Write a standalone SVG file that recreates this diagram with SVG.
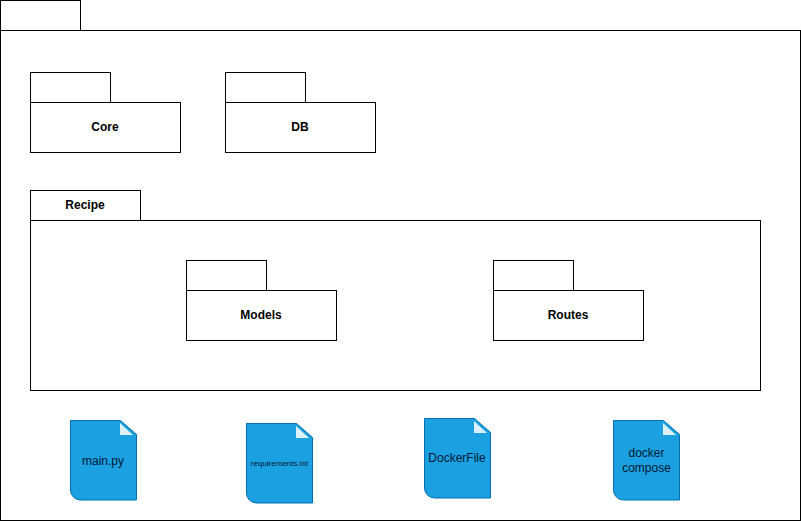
<svg xmlns="http://www.w3.org/2000/svg" width="801" height="522" viewBox="0 0 801 522">
<style>
.b{fill:#fff;stroke:#000;stroke-width:1}
.l{font:bold 12px "Liberation Sans",Arial,sans-serif;fill:#000;text-anchor:middle}
.f{fill:#1ba1e2;stroke:#006eaf;stroke-width:1}
.c{fill:#fff;fill-opacity:.85}
.t{font:12px "Liberation Sans",Arial,sans-serif;fill:#001933;text-anchor:middle}
</style>
<rect width="801" height="522" fill="#fff"/>
<g id="root"><rect class="b" x="0.5" y="0.5" width="80" height="30"/><rect class="b" x="0.5" y="30.5" width="800" height="490"/></g>
<g id="core"><rect class="b" x="30.5" y="72.5" width="80" height="30"/><rect class="b" x="30.5" y="102.5" width="150" height="50"/><text class="l" x="105" y="131">Core</text></g>
<g id="db"><rect class="b" x="225.5" y="72.5" width="80" height="30"/><rect class="b" x="225.5" y="102.5" width="150" height="50"/><text class="l" x="300" y="131">DB</text></g>
<g id="recipe"><rect class="b" x="30.5" y="190.5" width="110" height="30"/><rect class="b" x="30.5" y="220.5" width="730" height="170"/><text class="l" x="85" y="209">Recipe</text></g>
<g id="models"><rect class="b" x="186.5" y="260.5" width="80" height="30"/><rect class="b" x="186.5" y="290.5" width="150" height="50"/><text class="l" x="261" y="319">Models</text></g>
<g id="routes"><rect class="b" x="493.5" y="260.5" width="80" height="30"/><rect class="b" x="493.5" y="290.5" width="150" height="50"/><text class="l" x="568" y="319">Routes</text></g>
<g id="main"><path class="f" d="M70.500 420.500h50l16 14v65.500h-56a10 10 0 0 1-10-10z"/><path class="c" d="M120 423l13 12h-13z"/><text class="t" x="103" y="465">main.py</text></g>
<g id="requirements"><path class="f" d="M246.500 423.500h50l16 14v65.500h-56a10 10 0 0 1-10-10z"/><path class="c" d="M296 426l13 12h-13z"/><text class="t" x="279.500" y="466" style="font-size:8px">requirements.txt</text></g>
<g id="dockerfile"><path class="f" d="M424.500 418.500h50l16 14v65.500h-56a10 10 0 0 1-10-10z"/><path class="c" d="M474 421l13 12h-13z"/><text class="t" x="457" y="462">DockerFile</text></g>
<g id="compose"><path class="f" d="M613.500 420.500h50l16 14v65.500h-56a10 10 0 0 1-10-10z"/><path class="c" d="M663 423l13 12h-13z"/><text class="t" x="646.500" y="457">docker</text><text class="t" x="646.500" y="472">compose</text></g>
<g id="connectors"></g>
</svg>
